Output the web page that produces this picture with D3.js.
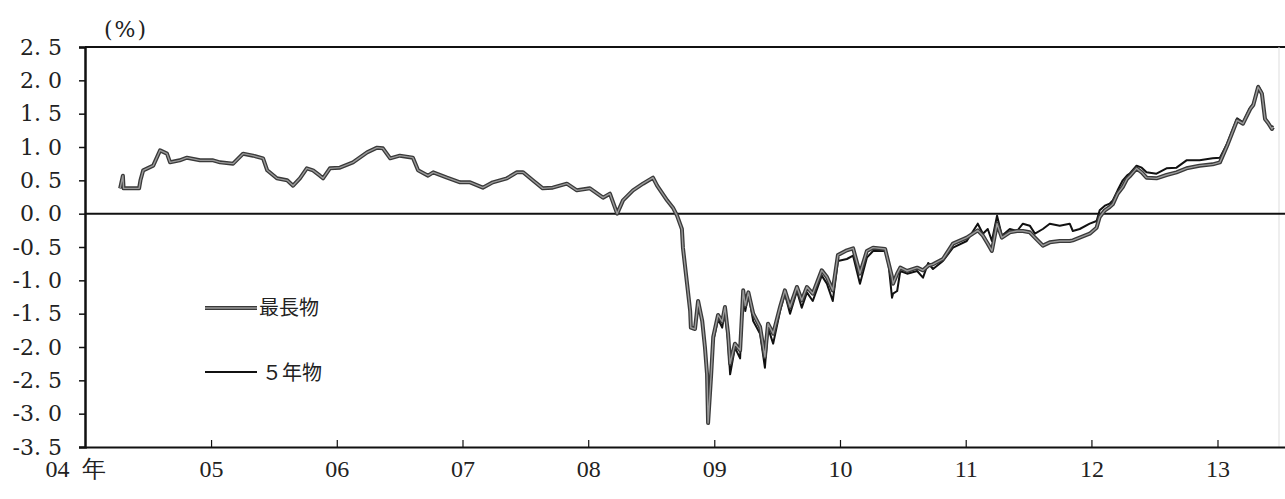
<!DOCTYPE html>
<html><head><meta charset="utf-8">
<script src="https://cdn.jsdelivr.net/npm/d3@7"></script>
<style>
html,body{margin:0;padding:0;background:#fff;}
svg{display:block;}
</style></head>
<body>
<svg id="chart" width="1285" height="499"></svg>
<script>
// ---- data ----
const dates = [
"2004-04-12","2004-04-20","2004-04-22","2004-06-06","2004-06-10","2004-06-18","2004-07-17","2004-08-06","2004-08-26","2004-09-04",
"2004-10-02","2004-10-23","2004-11-30","2005-01-07","2005-01-27","2005-03-06","2005-04-04","2005-05-03","2005-06-01","2005-06-13",
"2005-07-11","2005-08-10","2005-08-27","2005-09-16","2005-10-06","2005-10-24","2005-11-13","2005-11-22","2005-12-12","2006-01-10",
"2006-02-17","2006-03-30","2006-04-28","2006-05-15","2006-06-05","2006-07-03","2006-08-10","2006-08-25","2006-09-23","2006-10-08",
"2006-11-17","2006-12-25","2007-01-23","2007-03-01","2007-03-30","2007-05-10","2007-06-08","2007-06-26","2007-07-24","2007-08-22",
"2007-09-20","2007-10-31","2007-11-29","2008-01-06","2008-02-13","2008-03-04","2008-03-25","2008-04-11","2008-05-10","2008-06-08",
"2008-07-07","2008-07-19","2008-08-17","2008-09-03","2008-09-15","2008-09-29","2008-10-02","2008-10-14","2008-10-23","2008-10-25",
"2008-11-06","2008-11-15","2008-11-27","2008-12-05","2008-12-11","2008-12-14","2008-12-23","2008-12-29","2009-01-12","2009-01-24",
"2009-02-01","2009-02-10","2009-02-16","2009-03-02","2009-03-17","2009-03-26","2009-04-01","2009-04-10","2009-04-24","2009-05-14",
"2009-05-28","2009-06-06","2009-06-21","2009-07-11","2009-07-25","2009-08-09","2009-08-29","2009-09-12","2009-09-27","2009-10-14",
"2009-11-09","2009-11-24","2009-12-11","2009-12-26","2010-01-21","2010-02-08","2010-02-28","2010-03-20","2010-04-07","2010-05-12",
"2010-05-20","2010-06-01","2010-06-04","2010-06-16","2010-06-25","2010-07-15","2010-08-13","2010-08-30","2010-09-14","2010-09-28",
"2010-10-27","2010-11-25","2011-01-04","2011-02-05","2011-02-20","2011-03-06","2011-03-18","2011-04-02","2011-04-16","2011-05-09",
"2011-05-30","2011-06-16","2011-07-06","2011-07-21","2011-08-13","2011-09-02","2011-10-01","2011-10-30","2011-11-08","2011-11-28",
"2011-12-27","2012-01-16","2012-01-25","2012-02-09","2012-02-23","2012-03-03","2012-03-17","2012-04-01","2012-04-13","2012-04-21",
"2012-05-11","2012-05-26","2012-06-09","2012-07-08","2012-08-06","2012-09-04","2012-10-03","2012-11-10","2012-12-18","2013-01-08",
"2013-01-29","2013-02-27","2013-03-16","2013-04-06","2013-04-15","2013-04-29","2013-05-10","2013-05-19","2013-05-28","2013-06-08",
"2013-06-11"
];
// 最長物
const longest = [
0.38,0.57,0.38,0.38,0.50,0.65,0.72,0.95,0.90,0.77,
0.80,0.84,0.80,0.80,0.77,0.75,0.90,0.87,0.83,0.65,
0.53,0.50,0.42,0.53,0.68,0.65,0.57,0.53,0.68,0.69,
0.77,0.92,0.99,0.98,0.83,0.87,0.84,0.65,0.57,0.62,
0.54,0.47,0.47,0.39,0.47,0.53,0.62,0.62,0.50,0.38,
0.39,0.45,0.35,0.38,0.24,0.30,0.00,0.20,0.35,0.45,
0.54,0.42,0.20,0.09,-0.03,-0.23,-0.51,-1.05,-1.46,-1.71,
-1.73,-1.31,-1.61,-2.01,-2.41,-3.14,-2.41,-1.85,-1.52,-1.62,
-1.40,-1.80,-2.25,-1.95,-2.05,-1.15,-1.38,-1.18,-1.50,-1.70,
-2.15,-1.65,-1.80,-1.40,-1.15,-1.40,-1.10,-1.30,-1.10,-1.20,
-0.85,-0.95,-1.15,-0.62,-0.55,-0.52,-0.90,-0.56,-0.51,-0.53,
-0.70,-0.95,-1.05,-0.90,-0.81,-0.86,-0.81,-0.85,-0.78,-0.76,
-0.68,-0.45,-0.36,-0.25,-0.33,-0.45,-0.56,-0.15,-0.36,-0.28,
-0.26,-0.26,-0.28,-0.36,-0.48,-0.43,-0.41,-0.41,-0.40,-0.36,
-0.30,-0.21,-0.05,0.05,0.10,0.14,0.30,0.40,0.52,0.56,
0.68,0.62,0.54,0.53,0.58,0.62,0.68,0.72,0.74,0.77,
1.02,1.40,1.35,1.57,1.63,1.90,1.80,1.42,1.36,1.27,
1.30
];
// 5年物
const fiveYear = [
0.38,0.57,0.38,0.38,0.50,0.65,0.72,0.95,0.90,0.77,
0.80,0.84,0.80,0.80,0.77,0.75,0.90,0.87,0.83,0.65,
0.53,0.50,0.42,0.53,0.68,0.65,0.57,0.53,0.68,0.69,
0.77,0.92,0.99,0.98,0.83,0.87,0.84,0.65,0.57,0.62,
0.54,0.47,0.47,0.39,0.47,0.53,0.62,0.62,0.50,0.38,
0.39,0.45,0.35,0.38,0.24,0.30,0.00,0.20,0.35,0.45,
0.54,0.42,0.20,0.09,-0.03,-0.23,-0.51,-1.05,-1.46,-1.71,
-1.73,-1.31,-1.61,-2.01,-2.41,-3.14,-2.41,-1.91,-1.58,-1.71,
-1.46,-1.91,-2.41,-2.01,-2.17,-1.16,-1.46,-1.20,-1.61,-1.80,
-2.31,-1.71,-1.95,-1.46,-1.20,-1.50,-1.16,-1.41,-1.18,-1.31,
-0.93,-1.05,-1.31,-0.71,-0.68,-0.63,-1.05,-0.66,-0.56,-0.56,
-0.66,-1.26,-1.20,-1.16,-0.86,-0.90,-0.86,-0.96,-0.74,-0.83,
-0.71,-0.51,-0.41,-0.15,-0.30,-0.23,-0.41,-0.03,-0.33,-0.23,
-0.26,-0.15,-0.18,-0.30,-0.23,-0.15,-0.18,-0.15,-0.26,-0.23,
-0.15,-0.11,0.05,0.12,0.15,0.20,0.35,0.50,0.57,0.60,
0.72,0.69,0.62,0.60,0.68,0.69,0.80,0.80,0.83,0.84,
1.05,1.43,1.37,1.59,1.65,1.92,1.82,1.43,1.37,1.28,
1.32
];
const yTicks = [2.5,2.0,1.5,1.0,0.5,0.0,-0.5,-1.0,-1.5,-2.0,-2.5,-3.0,-3.5];
const yearTicks = ["2004-01-01","2005-01-01","2006-01-01","2007-01-01","2008-01-01","2009-01-01","2010-01-01","2011-01-01","2012-01-01","2013-01-01"];
const yearLabels = ["04 年","05","06","07","08","09","10","11","12","13"];
const seriesNames = ["最長物","５年物"];
const unitLabel = "(%)";

// ---- chart ----
const svg = d3.select("#chart");
const mLeft = 85, mRight = 1285, mTop = 47, mBottom = 447;
const parse = d3.timeParse("%Y-%m-%d");
const x = d3.scaleTime().domain([parse("2004-01-01"), parse("2013-07-16")]).range([mLeft, mRight]);
const y = d3.scaleLinear().domain([-3.5, 2.5]).range([mBottom, mTop]);
const serifY = "'DejaVu Serif','Liberation Serif',serif";
const serifX = "'Liberation Serif','DejaVu Serif',serif";
const cjk = "'Noto Sans CJK JP','Noto Sans CJK SC',sans-serif";

// frame
svg.append("line").attr("x1", mLeft).attr("x2", mRight).attr("y1", mTop).attr("y2", mTop)
  .attr("stroke", "#111").attr("stroke-width", 2);
svg.append("line").attr("x1", 1279).attr("x2", 1279).attr("y1", mTop).attr("y2", mBottom)
  .attr("stroke", "#ddd").attr("stroke-width", 1);

// y axis
const yAxis = d3.axisLeft(y).tickValues(yTicks).tickSize(6).tickPadding(16)
  .tickFormat(d => d3.format(".1f")(d).replace("−", "-").replace(".", ". "));
const gy = svg.append("g").attr("transform", `translate(${mLeft},0)`).call(yAxis);
gy.select(".domain").attr("stroke", "#111").attr("stroke-width", 2.5);
gy.selectAll(".tick line").attr("stroke", "#111").attr("stroke-width", 1.5);
gy.selectAll(".tick text").attr("font-family", serifY).attr("font-size", 22).attr("fill", "#222")
  .attr("x", -23);

// x axis
const xAxis = d3.axisBottom(x).tickValues(yearTicks.map(parse)).tickSizeInner(-7).tickSizeOuter(0).tickPadding(13)
  .tickFormat((d, i) => yearLabels[i]);
const gx = svg.append("g").attr("transform", `translate(0,${mBottom})`).call(xAxis);
gx.select(".domain").attr("stroke", "#111").attr("stroke-width", 2);
gx.selectAll(".tick line").attr("stroke", "#111").attr("stroke-width", 1.2)
  .attr("opacity", (d, i) => i === 0 ? 0 : 1);
gx.selectAll(".tick text").attr("font-family", serifX).attr("font-size", 24).attr("fill", "#222")
  .attr("dx", (d, i) => i === 0 ? -10 : 0).attr("word-spacing", (d, i) => i === 0 ? 6 : 0);

// zero line
svg.append("line").attr("x1", mLeft).attr("x2", mRight).attr("y1", y(0)).attr("y2", y(0))
  .attr("stroke", "#111").attr("stroke-width", 2);

// unit
svg.append("text").attr("x", 104).attr("y", 37).attr("font-family", serifY).attr("font-size", 22)
  .attr("letter-spacing", 2).attr("fill", "#222").text(unitLabel);

// lines
const rows = dates.map((d, i) => ({date: parse(d), a: longest[i], b: fiveYear[i]}));
const lineA = d3.line().x(d => x(d.date)).y(d => y(d.a));
const lineB = d3.line().x(d => x(d.date)).y(d => y(d.b));
svg.append("path").datum(rows).attr("d", lineB).attr("fill", "none")
  .attr("stroke", "#111").attr("stroke-width", 2).attr("stroke-linejoin", "round");
svg.append("path").datum(rows).attr("d", lineA).attr("fill", "none")
  .attr("stroke", "#3a3a3a").attr("stroke-width", 4).attr("stroke-linejoin", "round");
svg.append("path").datum(rows).attr("d", lineA).attr("fill", "none")
  .attr("stroke", "#9a9a9a").attr("stroke-width", 1.4).attr("stroke-linejoin", "round");

// legend
const lg = svg.append("g");
lg.append("line").attr("x1", 205).attr("x2", 257).attr("y1", 308).attr("y2", 308)
  .attr("stroke", "#3a3a3a").attr("stroke-width", 4);
lg.append("line").attr("x1", 205).attr("x2", 257).attr("y1", 308).attr("y2", 308)
  .attr("stroke", "#9a9a9a").attr("stroke-width", 1.4);
lg.append("text").attr("x", 259).attr("y", 315).attr("font-family", cjk).attr("font-size", 20)
  .attr("fill", "#222").text(seriesNames[0]);
lg.append("line").attr("x1", 205).attr("x2", 257).attr("y1", 372).attr("y2", 372)
  .attr("stroke", "#111").attr("stroke-width", 2);
lg.append("text").attr("x", 262).attr("y", 380).attr("font-family", cjk).attr("font-size", 20)
  .attr("fill", "#222").text(seriesNames[1]);
</script>
</body></html>
